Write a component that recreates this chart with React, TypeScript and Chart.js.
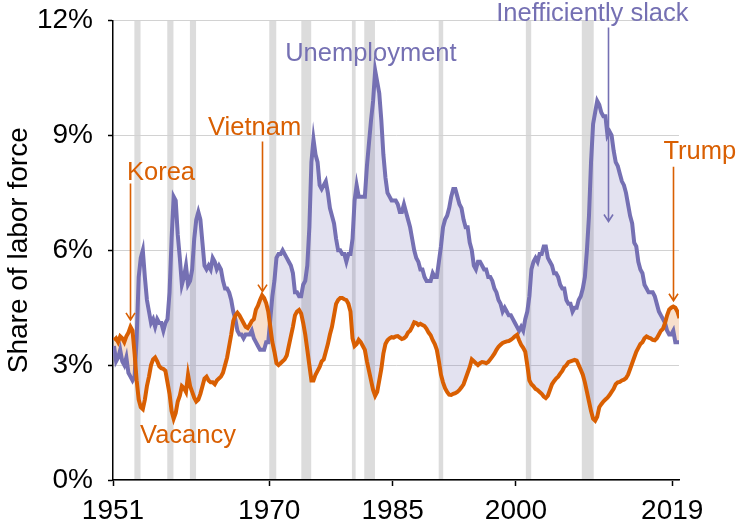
import React, { useEffect, useRef } from "react";
import { Chart, registerables } from "chart.js";

Chart.register(...registerables);

const startYear = 1951;
const endYear = 2019.82;
const xTickYears = [1951, 1970, 1985, 2000, 2019];
const yTickValues = [0, 3, 6, 9, 12];

// Quarterly unemployment rate (% of labor force), 1951Q1 - 2019Q4
const unemployment = [
  3.5, 3.1, 3.2, 3.4, 3.1, 3.0, 3.2, 2.8, 2.7, 2.6, 2.7, 3.7, 5.3, 5.8, 6.0, 5.3,
  4.7, 4.4, 4.1, 4.2, 4.0, 4.2, 4.1, 4.1, 3.9, 4.1, 4.2, 4.9, 6.3, 7.4, 7.3, 6.4,
  5.8, 5.1, 5.3, 5.6, 5.1, 5.2, 5.5, 6.3, 6.8, 7.0, 6.8, 6.2, 5.6, 5.5, 5.6, 5.5,
  5.8, 5.7, 5.5, 5.6, 5.5, 5.2, 5.0, 5.0, 4.9, 4.7, 4.4, 4.2, 3.9, 3.8, 3.8, 3.7,
  3.8, 3.8, 3.8, 3.9, 3.7, 3.6, 3.5, 3.4, 3.4, 3.4, 3.6, 3.6, 4.2, 4.8, 5.2, 5.8,
  5.9, 5.9, 6.0, 5.9, 5.8, 5.7, 5.6, 5.4, 4.9, 4.9, 4.8, 4.8, 5.1, 5.2, 5.6, 6.6,
  8.3, 8.9, 8.5, 8.3, 7.7, 7.6, 7.7, 7.8, 7.5, 7.1, 6.9, 6.7, 6.3, 6.0, 6.0, 5.9,
  5.9, 5.7, 5.9, 5.9, 6.3, 7.3, 7.7, 7.4, 7.4, 7.4, 7.4, 8.2, 8.8, 9.4, 9.9, 10.7,
  10.4, 10.1, 9.4, 8.5, 7.9, 7.5, 7.4, 7.3, 7.3, 7.3, 7.2, 7.0, 7.0, 7.2, 7.0, 6.8,
  6.6, 6.3, 6.0, 5.8, 5.7, 5.5, 5.5, 5.3, 5.2, 5.2, 5.2, 5.4, 5.3, 5.3, 5.7, 6.1,
  6.6, 6.8, 6.9, 7.1, 7.4, 7.6, 7.6, 7.4, 7.2, 7.1, 6.8, 6.6, 6.6, 6.2, 6.0, 5.6,
  5.5, 5.7, 5.7, 5.6, 5.5, 5.5, 5.3, 5.3, 5.2, 5.0, 4.9, 4.7, 4.6, 4.4, 4.5, 4.4,
  4.3, 4.3, 4.2, 4.1, 4.0, 3.9, 4.0, 3.9, 4.2, 4.4, 4.8, 5.5, 5.7, 5.8, 5.7, 5.9,
  5.9, 6.1, 6.1, 5.8, 5.7, 5.6, 5.4, 5.4, 5.3, 5.1, 5.0, 5.0, 4.7, 4.6, 4.6, 4.4,
  4.5, 4.5, 4.7, 4.8, 5.0, 5.3, 6.0, 6.9, 8.3, 9.3, 9.6, 9.9, 9.8, 9.6, 9.5, 9.5,
  9.0, 9.1, 9.0, 8.6, 8.3, 8.2, 8.0, 7.8, 7.7, 7.5, 7.2, 6.9, 6.7, 6.2, 6.1, 5.7,
  5.5, 5.4, 5.1, 5.0, 4.9, 4.9, 4.9, 4.8, 4.6, 4.4, 4.3, 4.2, 4.1, 3.9, 3.8, 3.8,
  3.9, 3.6, 3.6, 3.6,
];

// Quarterly vacancy rate (% of labor force), 1951Q1 - 2019Q4
const vacancy = [
  3.65, 3.7, 3.6, 3.75, 3.7, 3.6, 3.75, 3.85, 4.0, 3.9, 3.3, 2.6, 2.1, 1.9, 1.85, 2.1,
  2.45, 2.7, 3.0, 3.15, 3.2, 3.1, 2.97, 2.92, 2.9, 2.85, 2.55, 2.25, 1.8, 1.6, 1.75, 2.05,
  2.2, 2.45, 2.4, 2.3, 2.75, 2.45, 2.3, 2.15, 2.05, 2.1, 2.25, 2.45, 2.65, 2.7, 2.6, 2.55,
  2.55, 2.5, 2.6, 2.65, 2.7, 2.8, 3.0, 3.2, 3.5, 3.8, 4.15, 4.3, 4.37, 4.3, 4.2, 4.1,
  4.0, 3.97, 4.05, 4.15, 4.2, 4.45, 4.55, 4.7, 4.82, 4.75, 4.62, 4.4, 4.0, 3.6, 3.35, 3.05,
  3.0, 3.05, 3.1, 3.15, 3.25, 3.5, 3.75, 4.0, 4.3, 4.4, 4.44, 4.35, 4.1, 3.8, 3.4, 3.0,
  2.6, 2.6, 2.75, 2.85, 2.95, 3.1, 3.15, 3.35, 3.55, 3.8, 4.0, 4.3, 4.6, 4.7, 4.75, 4.75,
  4.72, 4.7, 4.6, 4.4, 3.7, 3.5, 3.55, 3.66, 3.6, 3.5, 3.4, 3.1, 2.85, 2.6, 2.35, 2.2,
  2.3, 2.6, 2.9, 3.3, 3.55, 3.65, 3.7, 3.73, 3.72, 3.75, 3.76, 3.72, 3.68, 3.7, 3.75, 3.85,
  3.9, 4.0, 4.12, 4.1, 4.05, 4.08, 4.05, 4.02, 3.95, 3.85, 3.78, 3.65, 3.55, 3.4, 3.1, 2.75,
  2.55, 2.4, 2.3, 2.23, 2.22, 2.25, 2.27, 2.3, 2.35, 2.42, 2.5, 2.65, 2.8, 2.95, 3.15, 3.1,
  3.05, 3.0, 3.05, 3.08, 3.07, 3.05, 3.08, 3.15, 3.22, 3.3, 3.4, 3.48, 3.53, 3.58, 3.6, 3.62,
  3.63, 3.66, 3.7, 3.75, 3.79, 3.65, 3.53, 3.45, 3.35, 3.0, 2.6, 2.5, 2.45, 2.38, 2.35, 2.3,
  2.25, 2.18, 2.14, 2.2, 2.35, 2.5, 2.58, 2.65, 2.7, 2.78, 2.85, 2.95, 3.0, 3.08, 3.1, 3.12,
  3.14, 3.12, 3.0, 2.88, 2.75, 2.55, 2.3, 2.05, 1.8, 1.6, 1.55, 1.65, 1.9, 1.98, 2.05, 2.1,
  2.15, 2.22, 2.3, 2.38, 2.5, 2.55, 2.56, 2.6, 2.62, 2.66, 2.75, 2.9, 3.05, 3.2, 3.35, 3.45,
  3.55, 3.6, 3.7, 3.75, 3.72, 3.7, 3.66, 3.65, 3.7, 3.8, 3.9, 3.95, 4.1, 4.3, 4.45, 4.5,
  4.53, 4.5, 4.4, 4.23,
];

// NBER recessions (decimal years)
const recessionStarts = [1953.6, 1957.6, 1960.35, 1970.0, 1973.9, 1980.05, 1981.55, 1990.6, 2001.2, 2008.0];
const recessionEnds = [1954.35, 1958.35, 1961.1, 1970.85, 1975.1, 1980.5, 1982.85, 1991.15, 2001.85, 2009.45];

// Annotations: label, text position (year, value at baseline), arrow (year, from value, to value)
const annotationLabels = ["Korea", "Vietnam", "Unemployment", "Inefficiently slack", "Trump", "Vacancy"];
const annotationTextYear = [1952.7, 1962.56, 1971.93, 1997.6, 2017.93, 1954.29];
const annotationTextValue = [7.84, 9.02, 10.95, 12.0, 8.37, 0.97];
const annotationArrowYear = [1953.07, 1969.13, null, 2011.23, 2019.03, null];
const annotationArrowFrom = [7.74, 8.84, null, 11.82, 8.18, null];
const annotationArrowTo = [4.18, 4.92, null, 6.75, 4.68, null];
const annotationIsPurple = [false, false, true, true, false, false];

const PURPLE = "#7570b3";
const ORANGE = "#d95f02";
const FONT = "'Liberation Sans', Arial, Helvetica, sans-serif";

const quarterYear = (i: number) => startYear + i / 4 + 0.125;

export default function App() {
  const ref = useRef<HTMLCanvasElement | null>(null);

  useEffect(() => {
    if (!ref.current) return;

    const recessionPlugin = {
      id: "recessions",
      beforeDraw(chart: any) {
        const { ctx, chartArea, scales } = chart;
        ctx.save();
        ctx.fillStyle = "#dcdcdc";
        for (let i = 0; i < recessionStarts.length; i++) {
          const x0 = scales.x.getPixelForValue(recessionStarts[i]);
          const x1 = scales.x.getPixelForValue(recessionEnds[i]);
          ctx.fillRect(x0, chartArea.top, x1 - x0, chartArea.bottom - chartArea.top);
        }
        ctx.restore();
      },
    };

    const annotationPlugin = {
      id: "annotations",
      afterDatasetsDraw(chart: any) {
        const { ctx, scales } = chart;
        ctx.save();
        ctx.font = `25.5px ${FONT}`;
        ctx.textBaseline = "alphabetic";
        ctx.textAlign = "left";
        for (let i = 0; i < annotationLabels.length; i++) {
          const color = annotationIsPurple[i] ? PURPLE : ORANGE;
          ctx.fillStyle = color;
          const tx = scales.x.getPixelForValue(annotationTextYear[i]);
          const ty = scales.y.getPixelForValue(annotationTextValue[i]);
          ctx.fillText(annotationLabels[i], tx, ty);
          const ay = annotationArrowYear[i];
          if (ay !== null) {
            const ax = Math.round(scales.x.getPixelForValue(ay)) + 0.5;
            const y0 = scales.y.getPixelForValue(annotationArrowFrom[i] as number);
            const y1 = scales.y.getPixelForValue(annotationArrowTo[i] as number);
            ctx.strokeStyle = color;
            ctx.lineWidth = 1.6;
            ctx.beginPath();
            ctx.moveTo(ax, y0);
            ctx.lineTo(ax, y1);
            ctx.moveTo(ax - 4.5, y1 - 7);
            ctx.lineTo(ax, y1);
            ctx.lineTo(ax + 4.5, y1 - 7);
            ctx.stroke();
          }
        }
        ctx.restore();
      },
    };

    const uData = unemployment.map((v, i) => ({ x: quarterYear(i), y: v }));
    const vData = vacancy.map((v, i) => ({ x: quarterYear(i), y: v }));

    const chart = new Chart(ref.current, {
      type: "line",
      data: {
        datasets: [
          {
            label: "Vacancy",
            data: vData,
            borderColor: ORANGE,
            borderWidth: 4,
            pointRadius: 0,
            tension: 0,
            fill: { target: 1, above: "rgba(217,95,2,0.2)", below: "rgba(117,112,179,0.2)" },
          },
          {
            label: "Unemployment",
            data: uData,
            borderColor: PURPLE,
            borderWidth: 4,
            pointRadius: 0,
            tension: 0,
            fill: false,
          },
        ],
      },
      options: {
        responsive: false,
        animation: false,
        devicePixelRatio: 1,
        layout: { padding: { left: 0, top: 20.5, right: 58, bottom: 0 } },
        plugins: {
          legend: { display: false },
          tooltip: { enabled: false },
          filler: { drawTime: "beforeDatasetsDraw" },
        },
        scales: {
          x: {
            type: "linear",
            min: startYear,
            max: endYear,
            afterFit: (scale: any) => {
              scale.height = 48;
              scale.paddingLeft = 0;
              scale.paddingRight = 0;
            },
            afterBuildTicks: (scale: any) => {
              scale.ticks = xTickYears.map((v) => ({ value: v }));
            },
            ticks: {
              autoSkip: false,
              maxRotation: 0,
              color: "#000",
              padding: 8,
              font: { family: FONT, size: 28 },
              callback: (v: any) => String(v),
            },
            grid: {
              drawOnChartArea: false,
              drawTicks: true,
              tickLength: 6,
              tickColor: "#000",
              tickWidth: 1.5,
            },
            border: { display: true, color: "#000", width: 1.5 },
          },
          y: {
            min: 0,
            max: 12,
            afterFit: (scale: any) => {
              scale.width = 113;
              scale.paddingTop = 0;
              scale.paddingBottom = 0;
            },
            afterBuildTicks: (scale: any) => {
              scale.ticks = yTickValues.map((v) => ({ value: v }));
            },
            ticks: {
              color: "#000",
              padding: 15,
              font: { family: FONT, size: 28 },
              callback: (v: any) => `${v}%`,
            },
            grid: {
              color: "#d2d2d2",
              lineWidth: 1,
              drawTicks: true,
              tickLength: 5,
              tickColor: "#000",
              tickWidth: 1.5,
            },
            border: { display: true, color: "#000", width: 1.5 },
            title: {
              display: true,
              text: "Share of labor force",
              color: "#000",
              font: { family: FONT, size: 28 },
              padding: { top: 2, bottom: 0 },
            },
          },
        },
      },
      plugins: [recessionPlugin, annotationPlugin],
    } as any);

    return () => chart.destroy();
  }, []);

  return (
    <div style={{ position: "absolute", left: 0, top: 0, width: 737, height: 528 }}>
      <canvas ref={ref} width={737} height={528} style={{ width: 737, height: 528 }} />
    </div>
  );
}
